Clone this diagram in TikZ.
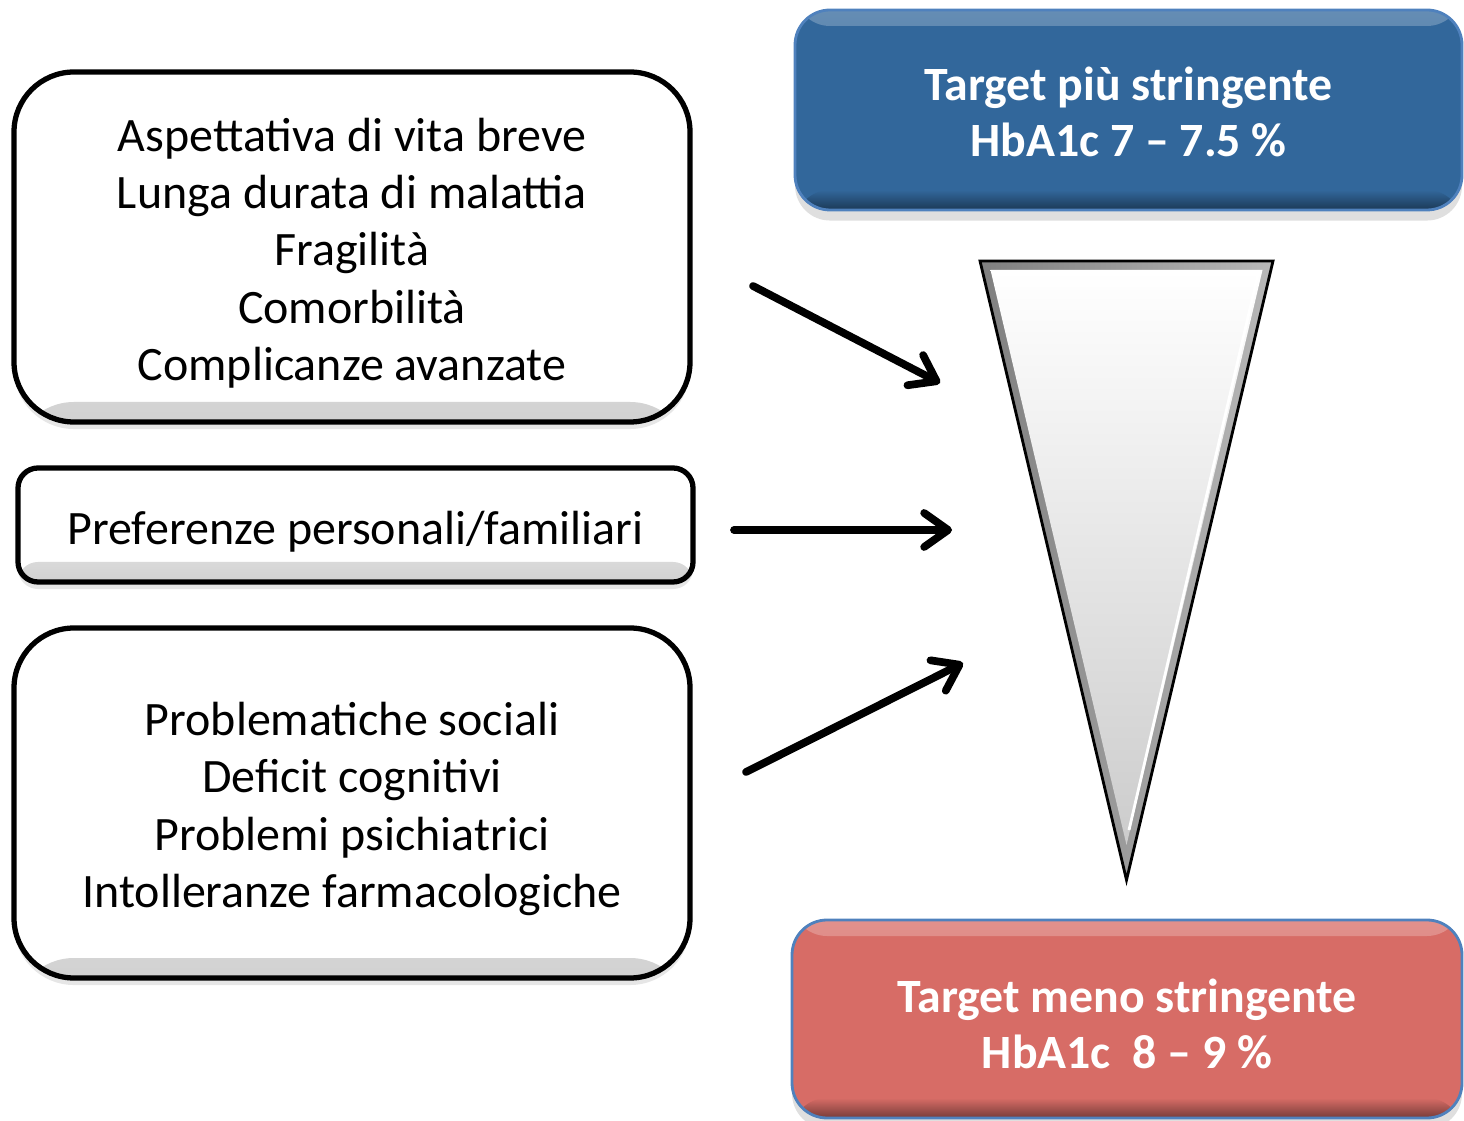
\documentclass[tikz,border=0pt]{standalone}
\usepackage{fontspec}
\setmainfont{Carlito}
\usetikzlibrary{arrows.meta, shadows}
\definecolor{tblue}{HTML}{32679B}
\definecolor{tred}{HTML}{D76C66}
\definecolor{tedge}{HTML}{4F81BD}
\tikzset{
  factor/.style={draw=black, fill=white, line width=1.5pt, rounded corners=#1,
    drop shadow={opacity=0.2, shadow xshift=0pt, shadow yshift=-2pt},
    path picture={\shade[top color=white, bottom color=black!18]
      ([yshift=0.2cm]path picture bounding box.south west) rectangle (path picture bounding box.south east);}},
  factor/.default=0.6cm,
  factortext/.style={align=center, inner sep=0pt, font=\fontsize{13.65}{16.3}\selectfont},
  target/.style={fill=#1, draw=tedge, line width=0.8pt, rounded corners=0.35cm,
    drop shadow={opacity=0.25, shadow xshift=0pt, shadow yshift=-3pt},
    path picture={
      \shade[top color=#1!75!white, bottom color=#1]
        ([yshift=-0.16cm]path picture bounding box.north west) rectangle (path picture bounding box.north east);
      \shade[top color=#1, bottom color=#1!55!black]
        ([yshift=0.2cm]path picture bounding box.south west) rectangle (path picture bounding box.south east);}},
  targettext/.style={align=center, inner sep=0pt, text=white, font=\bfseries\fontsize{13.6}{16}\selectfont},
  arrow/.style={-{Straight Barb[length=2.4mm, width=3.4mm, round]}, line width=2.2pt, line cap=round},
}

\begin{document}
\begin{tikzpicture}
  \useasboundingbox (0,0) rectangle (14.64,-11.21);
  % left column: groups of factors
  \node[factor, minimum width=6.76cm, minimum height=3.5cm] (life) at (3.52,-2.47) {};
  \node[factortext] (lifetext) at ([yshift=-0.06cm]life)
    {Aspettativa di vita breve\\Lunga durata di malattia\\Fragilità\\Comorbilità\\Complicanze avanzate};
  \node[factor=0.2cm, minimum width=6.75cm, minimum height=1.14cm] (pref) at (3.555,-5.25) {};
  \node[factortext] (preftext) at ([yshift=-0.07cm]pref) {Preferenze personali/familiari};
  \node[factor, minimum width=6.76cm, minimum height=3.5cm] (social) at (3.52,-8.03) {};
  \node[factortext] (socialtext) at ([yshift=-0.06cm]social)
    {Problematiche sociali\\Deficit cognitivi\\Problemi psichiatrici\\Intolleranze farmacologiche};

  % right column: the two targets
  \node[target=tblue, minimum width=6.67cm, minimum height=2cm] (strict) at (11.285,-1.10) {};
  \node[targettext] (stricttext) at ([yshift=-0.02cm]strict) {Target più stringente\\HbA1c 7 – 7.5 \%};
  \node[target=tred, minimum width=6.70cm, minimum height=1.98cm] (loose) at (11.27,-10.19) {};
  \node[targettext] (loosetext) at ([yshift=-0.05cm]loose) {Target meno stringente\\HbA1c~~8 – 9 \%};

  % funnel between them
  \coordinate (ftl) at (9.80,-2.61);
  \coordinate (ftr) at (12.73,-2.61);
  \coordinate (fbot) at (11.265,-8.80);
  \shade[left color=black!50, right color=black!28] (ftl) -- (ftr) -- (fbot) -- cycle;
  \shade[top color=white, bottom color=black!20] (9.905,-2.70) -- (12.625,-2.70) -- (11.265,-8.45) -- cycle;
  \draw[white, line width=0.8pt] (12.58,-2.74) -- (11.29,-8.30);
  \draw[line width=0.8pt, line join=miter] (ftl) -- (ftr) -- (fbot) -- cycle;

  % arrows into the funnel
  \coordinate (s1) at (7.53,-2.86);  \coordinate (e1) at (9.40,-3.83);
  \coordinate (s2) at (7.34,-5.30);  \coordinate (e2) at (9.52,-5.30);
  \coordinate (s3) at (7.46,-7.72);  \coordinate (e3) at (9.63,-6.63);
  \foreach \s/\e in {s1/e1, s2/e2, s3/e3}
    \draw[arrow] (\s) -- (\e);
\end{tikzpicture}
\end{document}
